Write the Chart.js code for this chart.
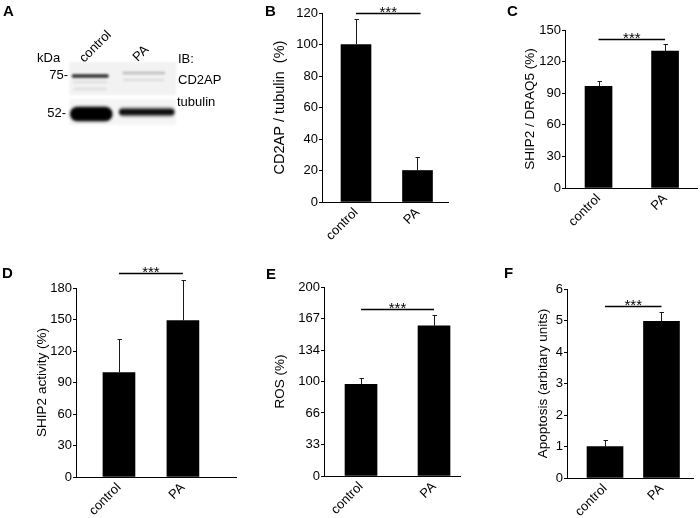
<!DOCTYPE html>
<html>
<head>
<meta charset="utf-8">
<script src="https://cdn.jsdelivr.net/npm/chart.js@4.4.1/dist/chart.umd.min.js"></script>
<style>
  html, body { margin: 0; background: #fff; }
  #fig { position: relative; width: 700px; height: 518px; overflow: hidden; }
  #fig canvas { position: absolute; }
  .tag { position: absolute; font: bold 15px/15px "Liberation Sans", Arial, sans-serif; color: #000; }
</style>
</head>
<body>
<div id="fig">
  <canvas id="blot" width="230" height="240" style="left:0;top:0"></canvas>
  <canvas id="panelB" width="225" height="240" style="left:230px;top:0"></canvas>
  <canvas id="panelC" width="240" height="240" style="left:460px;top:0"></canvas>
  <canvas id="panelD" width="240" height="278" style="left:0;top:240px"></canvas>
  <canvas id="panelE" width="222" height="278" style="left:240px;top:240px"></canvas>
  <canvas id="panelF" width="238" height="278" style="left:462px;top:240px"></canvas>
  <div class="tag" style="left:3px;top:3px">A</div>
  <div class="tag" style="left:265px;top:3px">B</div>
  <div class="tag" style="left:507px;top:3px">C</div>
  <div class="tag" style="left:2px;top:265px">D</div>
  <div class="tag" style="left:266px;top:266px">E</div>
  <div class="tag" style="left:504px;top:265px">F</div>
</div>
<script>
// ── data ─────────────────────────────────────────────
const groups = ["control", "PA"];

const cd2apTubulin = [100, 20];
const cd2apTubulinErr = [116, 28.5];

const ship2Draq5 = [96.5, 130];
const ship2Draq5Err = [101.5, 137];

const ship2Activity = [99.5, 149];
const ship2ActivityErr = [131, 188];

const ros = [97, 159];
const rosErr = [104, 170];
const rosTickValues = [0, 33.33, 66.67, 100, 133.33, 166.67, 200];
const rosTickLabels = ["0", "33", "66", "100", "134", "167", "200"];

const apoptosis = [1.0, 4.97];
const apoptosisErr = [1.2, 5.28];

// western blot (panel A): relative band intensity per lane, migration in gel units
const cd2apBand = [0.72, 0.2];
const tubulinBand = [1.0, 0.88];
const cd2apMigration = 14;
const tubulinMigration = 52;

// ── common ──────────────────────────────────────────
const FONT = '"Liberation Sans", Arial, sans-serif';
Chart.defaults.font.family = FONT;
Chart.defaults.color = "#000";
Chart.defaults.animation = false;
Chart.defaults.responsive = false;
Chart.defaults.devicePixelRatio = 1;

// error whiskers (upper only) + significance bracket
const errorBarPlugin = {
  id: "errorBars",
  afterDatasetsDraw(chart, args, o) {
    const { ctx, scales: { x, y } } = chart;
    const meta = chart.getDatasetMeta(0);
    ctx.save();
    ctx.strokeStyle = "#1a1a1a";
    ctx.lineWidth = 1;
    meta.data.forEach((bar, i) => {
      const px = Math.round(bar.x) + 0.5;
      const top = Math.round(y.getPixelForValue(o.errors[i])) + 0.5;
      ctx.beginPath();
      ctx.moveTo(px, bar.y);
      ctx.lineTo(px, top);
      ctx.moveTo(px - 2, top);
      ctx.lineTo(px + 2.5, top);
      ctx.stroke();
    });
    const sy = Math.round(y.getPixelForValue(o.sigValue)) + 0.5;
    const x1 = x.getPixelForValue(o.sigFrom);
    const x2 = x.getPixelForValue(o.sigTo);
    ctx.strokeStyle = "#000";
    ctx.lineWidth = 1.5;
    ctx.beginPath();
    ctx.moveTo(x1, sy);
    ctx.lineTo(x2, sy);
    ctx.stroke();
    ctx.fillStyle = "#000";
    ctx.font = "15px " + FONT;
    ctx.textAlign = "center";
    ctx.textBaseline = "alphabetic";
    ctx.fillText("***", (x1 + x2) / 2, sy + 3);
    ctx.restore();
  },
};

function barPanel(id, p) {
  const yTicks = {
    color: "#000",
    font: { size: 13 },
    padding: 1,
  };
  if (p.step) yTicks.stepSize = p.step;
  if (p.tickLabels) yTicks.callback = (v, i) => p.tickLabels[i];

  return new Chart(document.getElementById(id), {
    type: "bar",
    data: {
      datasets: [{
        data: p.values.map((v, i) => ({ x: i + 1, y: v })),
        backgroundColor: "#000",
        borderWidth: 0,
        barThickness: p.barWidth,
      }],
    },
    options: {
      layout: { padding: { top: p.padTop, right: p.padRight, left: 0, bottom: 0 } },
      scales: {
        x: {
          type: "linear",
          min: p.xMin,
          max: p.xMax,
          offset: false,
          afterBuildTicks: (s) => { s.ticks = groups.map((g, i) => ({ value: i + 1 })); },
          afterFit: (s) => { s.height = p.axisHeight; },
          ticks: {
            color: "#000",
            font: { size: 13 },
            minRotation: 45,
            maxRotation: 45,
            autoSkip: false,
            padding: 3,
            callback: (v) => groups[Math.round(v) - 1],
          },
          grid: { display: true, drawOnChartArea: false, drawTicks: false, color: "#000" },
          border: { display: true, color: "#000", width: 1 },
        },
        y: {
          min: 0,
          max: p.yMax,
          afterBuildTicks: p.tickValues
            ? (s) => { s.ticks = p.tickValues.map((v) => ({ value: v })); }
            : undefined,
          afterFit: (s) => { s.width = p.axisWidth; },
          ticks: yTicks,
          grid: { display: true, drawOnChartArea: false, drawTicks: true, tickLength: 3, color: "#000" },
          border: { display: true, color: "#000", width: 1 },
          title: {
            display: true,
            text: p.title,
            color: "#000",
            font: { size: p.titleSize || 13.5 },
            padding: { top: p.titlePad, bottom: 0 },
          },
        },
      },
      plugins: {
        legend: { display: false },
        tooltip: { enabled: false },
        errorBars: { errors: p.errors, sigValue: p.sigValue, sigFrom: 1, sigTo: p.sigTo || 2 },
      },
    },
    plugins: [errorBarPlugin],
  });
}

// ── panel A: western blot ───────────────────────────
function band(ctx, cx, cy, w, h, alpha, blur) {
  ctx.save();
  ctx.filter = "blur(" + blur + "px)";
  ctx.fillStyle = "rgba(0,0,0," + alpha + ")";
  ctx.beginPath();
  ctx.roundRect(cx - w / 2, cy - h / 2, w, h, h / 2);
  ctx.fill();
  ctx.restore();
}

const blotPlugin = {
  id: "blot",
  afterDraw(chart) {
    const { ctx, scales: { x, y } } = chart;
    const c0 = x.getPixelForValue(0);
    const c1 = x.getPixelForValue(1);
    const laneW = c1 - c0;
    const sx0 = c0 - laneW * 0.37;
    const sx1 = c1 + laneW * 0.52;

    // membrane strips
    ctx.save();
    ctx.filter = "blur(1px)";
    ctx.fillStyle = "rgba(0,0,0,0.05)";
    ctx.fillRect(sx0, y.getPixelForValue(0), sx1 - sx0, y.getPixelForValue(33) - y.getPixelForValue(0));
    ctx.fillStyle = "rgba(0,0,0,0.04)";
    ctx.fillRect(sx0, y.getPixelForValue(37), sx1 - sx0, y.getPixelForValue(63) - y.getPixelForValue(37));
    ctx.restore();

    // CD2AP bands
    const yc = y.getPixelForValue(cd2apMigration);
    band(ctx, c0, yc, laneW * 0.66, 4, cd2apBand[0], 0.9);
    band(ctx, c0, yc + 6, laneW * 0.62, 3, cd2apBand[0] * 0.1, 1);
    band(ctx, c0, yc + 13, laneW * 0.6, 4, cd2apBand[0] * 0.08, 1.2);
    band(ctx, c1 - 3, yc - 3, laneW * 0.76, 3, cd2apBand[1], 1);
    band(ctx, c1 - 3, yc + 4, laneW * 0.74, 3, cd2apBand[1] * 0.4, 1.2);

    // tubulin bands
    const yt = y.getPixelForValue(tubulinMigration);
    band(ctx, c0 + 1, yt, laneW * 0.76, 15, tubulinBand[0] * 0.85, 1.8);
    band(ctx, c0 + 1, yt, laneW * 0.7, 11, tubulinBand[0], 1);
    band(ctx, c1, yt - 2, laneW * 1.0, 9, tubulinBand[1] * 0.6, 1.6);
    band(ctx, c1, yt - 2, laneW * 0.96, 5, tubulinBand[1], 0.8);

    // labels
    ctx.save();
    ctx.fillStyle = "#000";
    ctx.font = "13px " + FONT;
    ctx.textBaseline = "alphabetic";
    ctx.textAlign = "left";
    ctx.fillText("kDa", 37, 62);
    ctx.textAlign = "right";
    ctx.fillText("75-", 68, yc + 3);
    ctx.fillText("52-", 66, yt + 3);
    ctx.textAlign = "left";
    ctx.fillText("IB:", 178, 63);
    ctx.fillText("CD2AP", 178, 84);
    ctx.fillText("tubulin", 177, 106);
    [[c0 - 6, 63], [c1 - 9, 62]].forEach(([tx, ty], i) => {
      ctx.save();
      ctx.translate(tx, ty);
      ctx.rotate(-Math.PI / 4);
      ctx.fillText(groups[i], 0, 0);
      ctx.restore();
    });
    ctx.restore();
  },
};

new Chart(document.getElementById("blot"), {
  type: "bar",
  data: { labels: groups, datasets: [] },
  options: {
    layout: { padding: { left: 62, top: 62, right: 55, bottom: 114 } },
    scales: {
      x: { type: "category", offset: true, display: false },
      y: { type: "linear", min: 0, max: 64, reverse: true, display: false },
    },
    plugins: { legend: { display: false }, tooltip: { enabled: false } },
  },
  plugins: [blotPlugin],
});

// ── panels B–F ──────────────────────────────────────
barPanel("panelB", {
  values: cd2apTubulin, errors: cd2apTubulinErr, title: "CD2AP / tubulin  (%)", titleSize: 14.5, titlePad: 41,
  yMax: 120, step: 20, xMin: 0.447, xMax: 2.496, barWidth: 30,
  axisWidth: 92, axisHeight: 38, padTop: 13, padRight: 7, sigValue: 120, sigTo: 2.05,
});

barPanel("panelC", {
  values: ship2Draq5, errors: ship2Draq5Err, title: "SHIP2 / DRAQ5 (%)", titlePad: 62,
  yMax: 150, step: 30, xMin: 0.496, xMax: 2.48, barWidth: 27,
  axisWidth: 105, axisHeight: 52, padTop: 30, padRight: 3, sigValue: 141.5,
});

barPanel("panelD", {
  values: ship2Activity, errors: ship2ActivityErr, title: "SHIP2 activity (%)", titlePad: 34,
  yMax: 180, step: 30, xMin: 0.328, xMax: 2.83, barWidth: 32,
  axisWidth: 76, axisHeight: 41, padTop: 48, padRight: 4, sigValue: 194,
});

barPanel("panelE", {
  values: ros, errors: rosErr, title: "ROS (%)", titlePad: 32,
  yMax: 200, tickValues: rosTickValues, tickLabels: rosTickLabels, xMin: 0.493, xMax: 2.356, barWidth: 32,
  axisWidth: 84, axisHeight: 42, padTop: 47, padRight: 2, sigValue: 176.7,
});

barPanel("panelF", {
  values: apoptosis, errors: apoptosisErr, title: "Apoptosis (arbitary units)", titlePad: 73,
  yMax: 6, step: 1, xMin: 0.327, xMax: 2.558, barWidth: 36,
  axisWidth: 105, axisHeight: 40, padTop: 49, padRight: 7, sigValue: 5.46,
});
</script>
</body>
</html>
